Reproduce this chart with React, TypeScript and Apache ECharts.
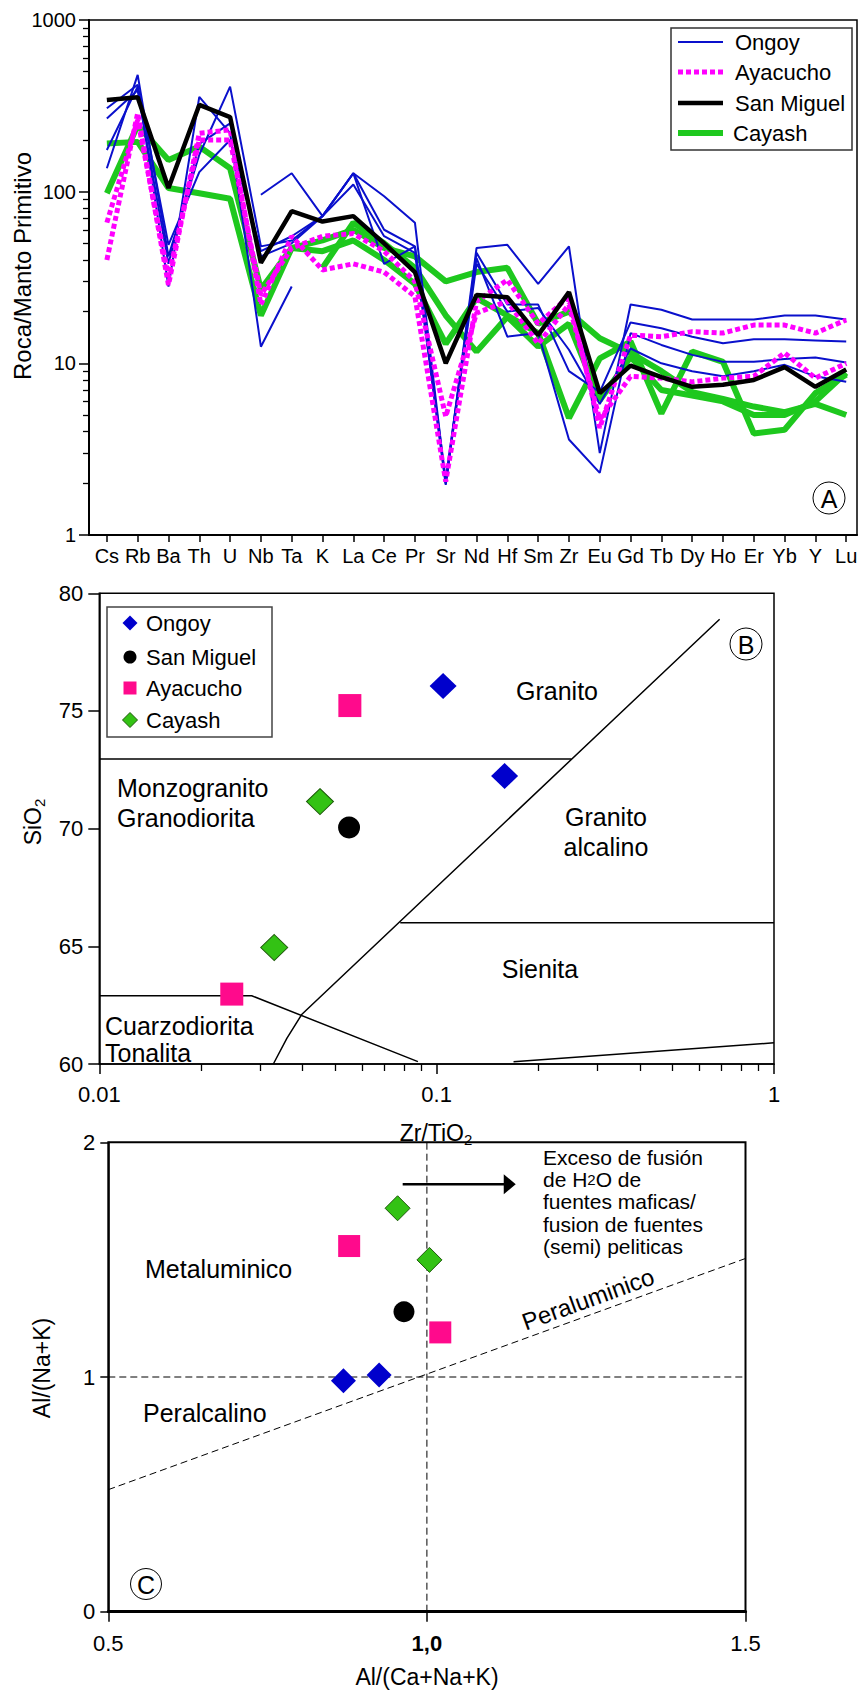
import React, { useEffect, useRef } from 'react';
import * as echarts from 'echarts';

const FONT = '"Liberation Sans", Arial, Helvetica, sans-serif';

// ---------- Panel A : spider diagram ----------
const ELEMENTS = ['Cs', 'Rb', 'Ba', 'Th', 'U', 'Nb', 'Ta', 'K', 'La', 'Ce', 'Pr', 'Sr', 'Nd', 'Hf', 'Sm', 'Zr', 'Eu', 'Gd', 'Tb', 'Dy', 'Ho', 'Er', 'Yb', 'Y', 'Lu'];

const SAN_MIGUEL = [342, 355, 105, 320, 272, 38.5, 77, 67, 72, 50, 34, 10, 25, 24.3, 14.6, 26, 6.7, 9.7, 8.3, 7.3, 7.5, 8.0, 9.5, 7.3, 9.2];

const ONGOY_1 = [null, null, null, null, null, 96, 128, 72, 128, 94, 66, 2.0, 47, 49, 29, 48, 3.0, 22, 20.5, 18, 18, 18, 19, 19, 18];
const ONGOY_2 = [137, 479, 42, 164, 409, 48, 52, 72, 128, 60, 48, 1.96, 44, 22, 22, 9, 6.8, 17.3, 16, 14.3, 13.1, 13.8, 13.8, 13.6, 13.4];
const ONGOY_3 = [175, 409, 28, 357, 219, 12.5, 28, null, null, null, null, null, null, null, null, null, null, null, null, null, null, null, null, null, null];
const ONGOY_4 = [306, 420, 49, 130, 200, 45, 55, 72, 128, 38, 48, 2.1, 41, 14.3, 15, 3.6, 2.3, 15, 12.8, 11.2, 10.2, 10.2, 10.6, 10.8, 10.1];
const ONGOY_5 = [267, 390, 38, 190, 250, 42, 50, 72, 110, 55, 44, 2.0, 38, 20, 21, 12, 5.8, 12.2, 10, 9, 8.4, 9, 9.8, 8.4, 7.8];

const AYACUCHO_1 = [40, 287, 28.6, 219, 229, 22, 55, 35, 38, 34, 24.5, 2.05, 22.9, 30.6, 17, 24.5, 4.2, 14.6, 14.3, 15.3, 15, 16.7, 16.7, 15, 17.9];
const AYACUCHO_2 = [66, 262, 32, 200, 200, 25, 47, 55, 57, 45, 30, 4.9, 19.6, 23, 13, 22, 4.7, 8.4, 8.2, 7.8, 8.2, 8.4, 11.5, 8.2, 10];

const CAYASH_1 = [98, 244, 153, 183, 137, 27, 47, 52, 60, 47, 42, 30, 34, 36, 17, 20, 14, 11.5, 9, 6.8, 6.2, 5.6, 5.2, 5.8, 5.0];
const CAYASH_2 = [191, 195, 105, 98, 91, 19, 47, 45, 52, 40, 29, 13, 24, 19, 15, 4.8, 10.7, 13.4, 5.1, 11.7, 10.2, 3.9, 4.1, 6.7, 8.6];
const CAYASH_3 = [null, null, null, null, null, null, null, 36, 66, 50, 36, 19, 11.7, 18.7, 12.5, 17, 6.1, 10.9, 7.0, 6.5, 6.0, 5.0, 5.0, 6.0, 8.8];

const LEGEND_NAMES = ['Ongoy', 'Ayacucho', 'San Miguel', 'Cayash'];

// ---------- Panel B : SiO2 vs Zr/TiO2 ----------
const B_ONGOY = [[0.1045, 76.06], [0.159, 72.24]];
const B_SAN_MIGUEL = [[0.055, 70.05]];
const B_AYACUCHO = [[0.0553, 75.23], [0.0247, 62.97]];
const B_CAYASH = [[0.0451, 71.15], [0.033, 64.95]];
const B_BOUNDARIES = [
  [[0.01, 72.96], [0.251, 72.96]],
  [[0.0328, 60], [0.036, 61.1], [0.0398, 62.1], [0.69, 78.9]],
  [[0.078, 66], [1, 66]],
  [[0.01, 62.9], [0.0283, 62.9], [0.088, 60.1]],
  [[0.169, 60.1], [1, 60.9]],
];

// ---------- Panel C : A/NK vs A/CNK ----------
const C_ONGOY = [[0.869, 0.984], [0.925, 1.008]];
const C_SAN_MIGUEL = [[0.964, 1.278]];
const C_AYACUCHO = [[0.878, 1.558], [1.021, 1.19]];
const C_CAYASH = [[0.954, 1.719], [1.004, 1.499]];
const C_DASHED = [
  [[0.5, 1], [1.5, 1]],
  [[1, 0], [1, 2]],
  [[0.5, 0.52], [1.5, 1.505]],
];
const C_ARROW = [[0.962, 1.821], [1.13, 1.821]];

const BLUE = '#0a10cc';
const MAGENTA = '#ff00ff';
const GREEN = '#1ec81e';
const PINK = '#ff0a8c';
const MK_BLUE = '#0000cc';
const MK_GREEN = '#33c214';

const A_XMIN = -0.58;
const A_XMAX = 24.35;

// minor tick positions of the log axes, expressed as log10 values
const LOG_MINOR_A: number[] = [];
[0, 1, 2].forEach((d) => { for (let m = 2; m <= 9; m++) LOG_MINOR_A.push(d + Math.log10(m)); });
const LOG_MINOR_B: number[] = [];
[-2, -1].forEach((d) => { for (let m = 2; m <= 9; m++) LOG_MINOR_B.push(d + Math.log10(m)); });

function spider(name: string, vals: (number | null)[], lineStyle: any, z: number) {
  return {
    type: 'line', name, xAxisIndex: 0, yAxisIndex: 0,
    data: vals.map((v, i) => [i, v == null ? '-' : v]),
    symbol: 'none', connectNulls: false, silent: true, z,
    lineStyle,
  };
}

const blueStyle = { color: BLUE, width: 2 };
const magStyle = { color: MAGENTA, width: 5, type: [5, 3] };
const blackStyle = { color: '#000', width: 4.5 };
const greenStyle = { color: GREEN, width: 6 };

function diamond(cx: number, cy: number, w: number, h: number) {
  return [[cx, cy - h / 2], [cx + w / 2, cy], [cx, cy + h / 2], [cx - w / 2, cy]];
}

function buildOption(): any {
  const idx = ELEMENTS.map((_, i) => i);
  const axisLineBlack = (w: number) => ({ show: true, onZero: false, lineStyle: { color: '#000', width: w } });
  const tick = (len: number, extra: any = {}) => ({ show: true, inside: false, length: len, lineStyle: { color: '#000', width: 1.5 }, ...extra });
  const lbl = (size: number, margin: number, extra: any = {}) => ({ fontSize: size, fontFamily: FONT, color: '#000', margin, ...extra });

  const series: any[] = [
    spider('Cayash', CAYASH_1, greenStyle, 2),
    spider('Cayash', CAYASH_2, greenStyle, 2),
    spider('Cayash', CAYASH_3, greenStyle, 2),
    spider('Ongoy', ONGOY_1, blueStyle, 3),
    spider('Ongoy', ONGOY_2, blueStyle, 3),
    spider('Ongoy', ONGOY_3, blueStyle, 3),
    spider('Ongoy', ONGOY_4, blueStyle, 3),
    spider('Ongoy', ONGOY_5, blueStyle, 3),
    spider('Ayacucho', AYACUCHO_1, magStyle, 4),
    spider('Ayacucho', AYACUCHO_2, magStyle, 4),
    spider('San Miguel', SAN_MIGUEL, blackStyle, 5),
  ];

  B_BOUNDARIES.forEach((pts) => series.push({
    type: 'line', xAxisIndex: 1, yAxisIndex: 1, data: pts, symbol: 'none', silent: true,
    lineStyle: { color: '#000', width: 1.5 }, z: 2,
  }));
  const op = (o: any) => ({ opacity: 1, ...o });
  series.push(
    { type: 'scatter', name: 'Ongoy', xAxisIndex: 1, yAxisIndex: 1, data: B_ONGOY, symbol: 'diamond', symbolSize: [27, 26], itemStyle: op({ color: MK_BLUE }), z: 5 },
    { type: 'scatter', name: 'San Miguel', xAxisIndex: 1, yAxisIndex: 1, data: B_SAN_MIGUEL, symbol: 'circle', symbolSize: 22, itemStyle: op({ color: '#000' }), z: 5 },
    { type: 'scatter', name: 'Ayacucho', xAxisIndex: 1, yAxisIndex: 1, data: B_AYACUCHO, symbol: 'rect', symbolSize: 23, itemStyle: op({ color: PINK }), z: 5 },
    { type: 'scatter', name: 'Cayash', xAxisIndex: 1, yAxisIndex: 1, data: B_CAYASH, symbol: 'diamond', symbolSize: [27, 26], itemStyle: op({ color: MK_GREEN, borderColor: '#1d5a0a', borderWidth: 1 }), z: 5 },
  );

  C_DASHED.forEach((pts) => series.push({
    type: 'line', xAxisIndex: 2, yAxisIndex: 2, data: pts, symbol: 'none', silent: true,
    lineStyle: { color: '#000', width: 1, type: [7, 4] }, z: 2,
  }));
  series.push(
    { type: 'line', xAxisIndex: 2, yAxisIndex: 2, data: C_ARROW, symbol: 'none', silent: true, lineStyle: { color: '#000', width: 2.5 }, z: 3 },
    { type: 'scatter', xAxisIndex: 2, yAxisIndex: 2, data: [C_ARROW[1]], symbol: 'triangle', symbolRotate: -90, symbolSize: [20, 12], itemStyle: op({ color: '#000' }), silent: true, z: 3 },
    { type: 'scatter', name: 'Ongoy', xAxisIndex: 2, yAxisIndex: 2, data: C_ONGOY, symbol: 'diamond', symbolSize: [25, 25], itemStyle: op({ color: MK_BLUE }), z: 5 },
    { type: 'scatter', name: 'San Miguel', xAxisIndex: 2, yAxisIndex: 2, data: C_SAN_MIGUEL, symbol: 'circle', symbolSize: 21, itemStyle: op({ color: '#000' }), z: 5 },
    { type: 'scatter', name: 'Ayacucho', xAxisIndex: 2, yAxisIndex: 2, data: C_AYACUCHO, symbol: 'rect', symbolSize: 22, itemStyle: op({ color: PINK }), z: 5 },
    { type: 'scatter', name: 'Cayash', xAxisIndex: 2, yAxisIndex: 2, data: C_CAYASH, symbol: 'diamond', symbolSize: [25, 25], itemStyle: op({ color: MK_GREEN, borderColor: '#1d5a0a', borderWidth: 1 }), z: 5 },
  );

  const txt = (x: number, y: number, text: string, size: number, extra: any = {}, rot = 0) => ({
    type: 'text', x, y, rotation: rot, z: 101,
    style: { text, fontSize: size, fontFamily: FONT, fill: '#000', align: 'center', verticalAlign: 'middle', ...extra },
  });

  const legendAStyles = [
    { stroke: BLUE, lineWidth: 2 },
    { stroke: MAGENTA, lineWidth: 5, lineDash: [5, 3] },
    { stroke: '#000', lineWidth: 4.5 },
    { stroke: GREEN, lineWidth: 6 },
  ];
  const legendAY = [42, 72, 103, 133];

  const graphics: any[] = [
    // Legend A
    { type: 'rect', shape: { x: 671, y: 28, width: 181, height: 122 }, style: { fill: '#fff', stroke: '#333', lineWidth: 1.5 }, z: 100 },
    ...LEGEND_NAMES.map((n, i) => ({ type: 'line', shape: { x1: 678, y1: legendAY[i], x2: 723, y2: legendAY[i] }, style: legendAStyles[i], z: 101 })),
    ...LEGEND_NAMES.map((n, i) => txt(i === 3 ? 733 : 735, legendAY[i], n, 22, { align: 'left' })),
    // Circled A
    { type: 'circle', shape: { cx: 829, cy: 498, r: 16 }, style: { fill: '#fff', stroke: '#000', lineWidth: 1 }, z: 100 },
    txt(829, 499, 'A', 25),
    // Y title A
    txt(22, 266, 'Roca/Manto Primitivo', 24, {}, Math.PI / 2),

    // Legend B
    { type: 'rect', shape: { x: 107, y: 607, width: 165, height: 130 }, style: { fill: '#fff', stroke: '#444', lineWidth: 1.5 }, z: 100 },
    { type: 'polygon', shape: { points: diamond(130, 623, 15, 15) }, style: { fill: MK_BLUE }, z: 101 },
    { type: 'circle', shape: { cx: 130, cy: 657, r: 6.5 }, style: { fill: '#000' }, z: 101 },
    { type: 'rect', shape: { x: 123.5, y: 681.5, width: 13, height: 13 }, style: { fill: PINK }, z: 101 },
    { type: 'polygon', shape: { points: diamond(130, 720, 15, 15) }, style: { fill: MK_GREEN, stroke: '#1d5a0a', lineWidth: 1 }, z: 101 },
    txt(146, 623, 'Ongoy', 22, { align: 'left' }),
    txt(146, 657, 'San Miguel', 22, { align: 'left' }),
    txt(146, 688, 'Ayacucho', 22, { align: 'left' }),
    txt(146, 720, 'Cayash', 22, { align: 'left' }),
    // Region labels B
    txt(557, 691, 'Granito', 25),
    txt(606, 832, 'Granito\nalcalino', 25, { lineHeight: 30 }),
    txt(117, 803, 'Monzogranito\nGranodiorita', 25, { align: 'left', lineHeight: 30 }),
    txt(540, 969, 'Sienita', 25),
    txt(105, 1039, 'Cuarzodiorita\nTonalita', 25, { align: 'left', lineHeight: 27 }),
    { type: 'circle', shape: { cx: 746, cy: 644, r: 16 }, style: { fill: '#fff', stroke: '#000', lineWidth: 1 }, z: 100 },
    txt(746, 645, 'B', 25),
    // Titles B
    txt(436, 1133, 'Zr/TiO{s|2}', 23, { lineHeight: 28, rich: { s: { fontSize: 15, lineHeight: 15, verticalAlign: 'bottom', fontFamily: FONT } } }),
    txt(33, 822, 'SiO{s|2}', 23, { lineHeight: 28, rich: { s: { fontSize: 15, lineHeight: 15, verticalAlign: 'bottom', fontFamily: FONT } } }, Math.PI / 2),

    // Panel C texts
    txt(145, 1269, 'Metaluminico', 25, { align: 'left' }),
    txt(143, 1413, 'Peralcalino', 25, { align: 'left' }),
    txt(588, 1299, 'Peraluminico', 24, {}, 0.348),
    txt(543, 1146, 'Exceso de fusión\nde H{s|2}O de\nfuentes maficas/\nfusion de fuentes\n(semi) peliticas', 21,
      { align: 'left', verticalAlign: 'top', lineHeight: 22.3, rich: { s: { fontSize: 15, fontFamily: FONT } } }),
    { type: 'circle', shape: { cx: 146, cy: 1584, r: 15.5 }, style: { fill: '#fff', stroke: '#000', lineWidth: 1 }, z: 100 },
    txt(146, 1585, 'C', 25),
    txt(427, 1677, 'Al/(Ca+Na+K)', 23),
    txt(42, 1368, 'Al/(Na+K)', 23, {}, Math.PI / 2),
  ];

  const hiddenBits = { axisLine: { show: false, onZero: false }, axisLabel: { show: false }, splitLine: { show: false } };

  return {
    animation: false,
    backgroundColor: '#fff',
    textStyle: { fontFamily: FONT },
    grid: [
      { left: 89, top: 20, width: 768, height: 515, show: true, borderColor: '#000', borderWidth: 1.5 },
      { left: 99.3, top: 593.3, width: 674.7, height: 470.7, show: true, borderColor: '#000', borderWidth: 1.5 },
      { left: 108.3, top: 1142.3, width: 637.2, height: 469.4, show: true, borderColor: '#000', borderWidth: 2 },
    ],
    xAxis: [
      {
        gridIndex: 0, type: 'value', min: A_XMIN, max: A_XMAX,
        axisLine: axisLineBlack(2),
        axisTick: tick(7, { customValues: idx }),
        axisLabel: lbl(20, 11, { customValues: idx, formatter: (v: number) => ELEMENTS[Math.round(v)] ?? '' }),
        splitLine: { show: false },
      },
      {
        gridIndex: 1, type: 'log', logBase: 10, min: 0.01, max: 1,
        axisLine: axisLineBlack(1.5),
        axisTick: tick(10),
        axisLabel: lbl(22, 19, { formatter: (v: number) => String(+(+v).toPrecision(3)) }),
        splitLine: { show: false },
      },
      {
        gridIndex: 2, type: 'value', min: 0.5, max: 1.5, interval: 0.5,
        axisLine: axisLineBlack(3),
        axisTick: tick(10),
        axisLabel: lbl(22, 21, {
          formatter: (v: number) => (Math.abs(v - 1) < 1e-9 ? '{b|1,0}' : v.toFixed(1)),
          rich: { b: { fontWeight: 'bold', fontSize: 22, fontFamily: FONT, color: '#000' } },
        }),
        splitLine: { show: false },
      },
      // minor ticks of panel B's log x axis (log10 space)
      {
        gridIndex: 1, type: 'value', position: 'bottom', min: -2, max: 0,
        ...hiddenBits,
        axisTick: { show: true, inside: false, length: 7, customValues: LOG_MINOR_B, lineStyle: { color: '#000', width: 1.3 } },
      },
    ],
    yAxis: [
      {
        gridIndex: 0, type: 'log', logBase: 10, min: 1, max: 1000,
        axisLine: axisLineBlack(2),
        axisTick: tick(10),
        axisLabel: lbl(20, 13, { formatter: (v: number) => String(Math.round(+v)) }),
        splitLine: { show: false },
      },
      {
        gridIndex: 1, type: 'value', min: 60, max: 80, interval: 5,
        axisLine: axisLineBlack(1.5),
        axisTick: tick(11),
        axisLabel: lbl(22, 16),
        splitLine: { show: false },
      },
      {
        gridIndex: 2, type: 'value', min: 0, max: 2, interval: 1,
        axisLine: axisLineBlack(1.5),
        axisTick: tick(8),
        axisLabel: lbl(22, 13),
        splitLine: { show: false },
      },
      // minor ticks of panel A's log y axis (log10 space)
      {
        gridIndex: 0, type: 'value', position: 'left', min: 0, max: 3,
        ...hiddenBits,
        axisTick: { show: true, inside: false, length: 6, customValues: LOG_MINOR_A, lineStyle: { color: '#000', width: 1.3 } },
      },
    ],
    series,
    graphic: { elements: graphics },
  };
}

export default function App() {
  const ref = useRef<HTMLDivElement>(null);
  useEffect(() => {
    document.body.style.margin = '0';
    if (!ref.current) return;
    const chart = echarts.init(ref.current, null, { renderer: 'svg' });
    chart.setOption(buildOption());
    return () => chart.dispose();
  }, []);
  return <div ref={ref} style={{ width: 861, height: 1691, background: '#fff' }} />;
}
